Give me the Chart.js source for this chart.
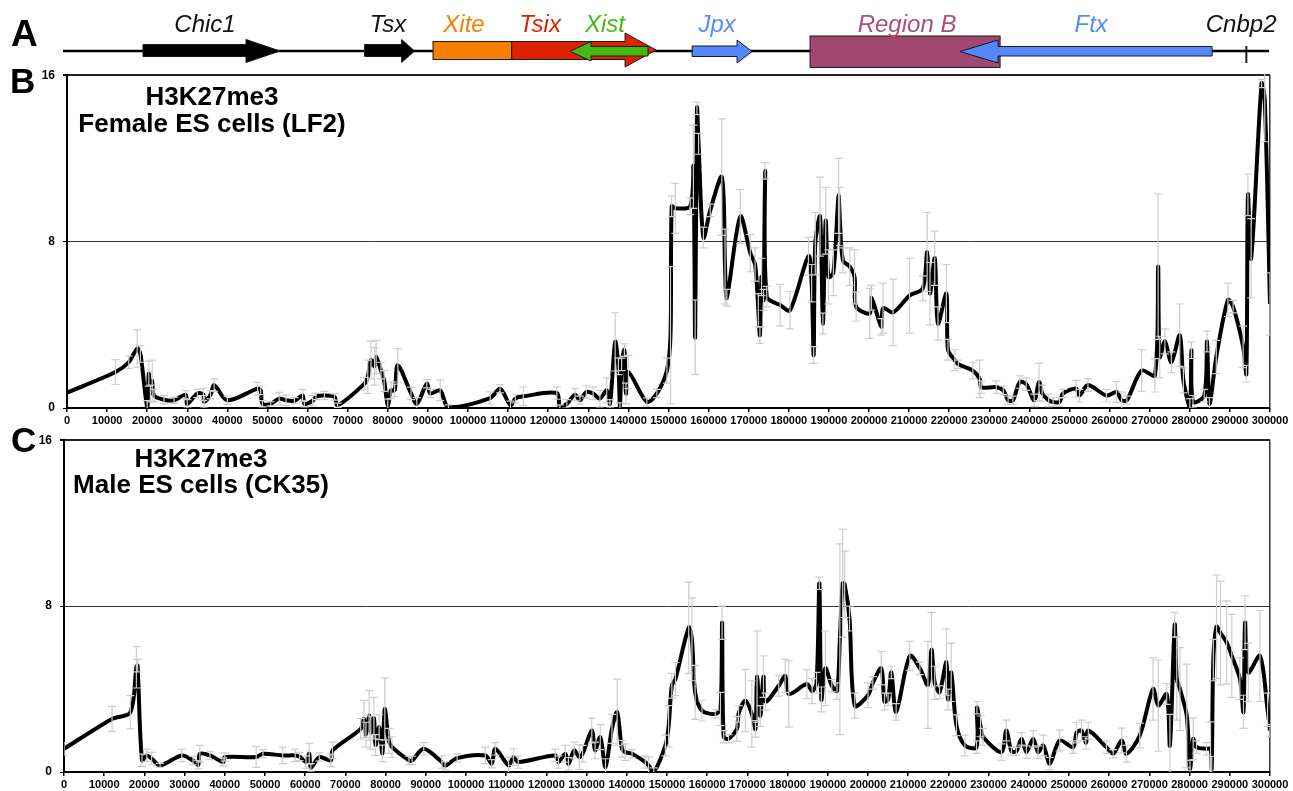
<!DOCTYPE html>
<html>
<head>
<meta charset="utf-8">
<title>H3K27me3 across the X-inactivation centre</title>
<script src="https://cdn.jsdelivr.net/npm/chart.js@4.4.1/dist/chart.umd.min.js"></script>
<style>
  body { margin: 0; background: #fff; }
  #wrap { position: relative; width: 1293px; height: 791px; }
  canvas { position: absolute; left: 0; }
</style>
</head>
<body>
<div id="wrap">
  <canvas id="map" width="1293" height="74" style="top:0"></canvas>
  <canvas id="female" width="1293" height="365" style="top:60px"></canvas>
  <canvas id="male" width="1293" height="366" style="top:425px"></canvas>
</div>
<script>
'use strict';

var FONT = '"Liberation Sans", Arial, Helvetica, sans-serif';

// gene map (bp)
var geneNames = ['Chic1', 'Tsx', 'Xite', 'Tsix', 'Xist', 'Jpx', 'Region B', 'Ftx', 'Cnbp2'];
var geneKind = ['+', '+', 'box', '+', '-', '+', 'box', '-', 'tick'];
var geneStart = [18950, 74220, 91280, 110900, 125450, 155880, 185300, 222710, 294100];
var geneEnd = [53120, 86690, 110900, 146900, 144900, 170840, 232690, 285560, 294100];
var geneLabelPos = [34420, 80060, 99010, 117960, 134170, 162110, 209490, 255400, 292800];
var mapSpan = [-1000, 299780];

// axis ticks
var xTickValues = [0, 10000, 20000, 30000, 40000, 50000, 60000, 70000, 80000, 90000,
  100000, 110000, 120000, 130000, 140000, 150000, 160000, 170000, 180000, 190000,
  200000, 210000, 220000, 230000, 240000, 250000, 260000, 270000, 280000, 290000, 300000];
var yTickValues = [0, 8, 16];

// female ES cells (LF2)
var femalePos = [
  0, 12083, 15400, 17500, 18300, 20000, 20400, 20800, 21250, 21700,
  24200, 26700, 29600, 30000, 32500, 34000, 34200, 35800, 36700, 40000,
  47500, 48300, 48750, 50800, 52900, 54600, 56700, 58750, 59200, 61250,
  62100, 64200, 66700, 67500, 74200, 75000, 75800, 76700, 77100, 78300,
  79100, 80000, 80800, 81700, 82500, 85800, 87240, 89740, 90600, 93060,
  95140, 105530, 108000, 110600, 111800, 113800, 122150, 122900, 124650, 126700,
  127900, 129500, 131200, 132900, 134600, 135400, 136700, 137500, 137900, 138300,
  139000, 139400, 140000, 144600, 147100, 149600, 150500, 150800, 151700, 155400,
  156200, 156650, 157100, 157500, 158700, 160400, 163300, 164100, 164550, 167900,
  170400, 171600, 172400, 172800, 173200, 173700, 174100, 174500, 177850, 180300,
  184900, 185700, 186200, 186600, 187800, 188500, 189200, 189900, 191100, 192400,
  192700, 193500, 195200, 196400, 196800, 200200, 200600, 203100, 203500, 206000,
  210100, 213400, 214500, 215200, 216400, 217200, 219300, 219700, 221400, 222300,
  225900, 227600, 228000, 231750, 233500, 234700, 235900, 237600, 239200, 241200,
  242400, 243200, 244800, 245900, 247500, 248400, 251700, 252500, 254600, 259200,
  261700, 263000, 264300, 268000, 271300, 272100, 272500, 273800, 275400, 277500,
  278400, 280000, 280400, 280800, 283600, 284300, 284900, 286600, 289500, 290800,
  293300, 294100, 294500, 295300, 297900, 298700, 300000];
var femaleVal = [
  0.74, 1.73, 2.2, 2.86, 2.6, 0.05, 1.65, 0.7, 1.3, 0.6,
  0.4, 0.37, 0.64, 0.2, 0.7, 0.65, 0.3, 0.64, 1.1, 0.37,
  0.93, 0.85, 0.2, 0.2, 0.45, 0.37, 0.35, 0.6, 0.2, 0.35,
  0.55, 0.6, 0.53, 0.13, 1.17, 1.5, 2.3, 2.0, 2.45, 1.8,
  1.3, 0.13, 0.85, 0.85, 2.05, 0.7, 0.2, 1.17, 0.7, 0.85,
  0.05, 0.48, 0.93, 0.13, 0.45, 0.56, 0.72, 0.05, 0.2, 0.64,
  0.37, 0.77, 0.7, 0.45, 0.85, 0.2, 3.18, 2.0, 0.05, 2.1,
  2.78, 0.7, 1.73, 0.29, 0.7, 1.8, 3.5, 9.7, 9.6, 9.7,
  11.6, 3.4, 14.4, 12.7, 8.2, 9.5, 11.1, 6.8, 5.3, 9.2,
  7.45, 6.9, 4.7, 3.5, 6.3, 5.2, 11.4, 5.35, 4.95, 4.7,
  7.3, 6.0, 2.55, 7.9, 9.2, 4.06, 9.0, 6.3, 6.5, 10.2,
  9.2, 7.1, 6.8, 6.3, 4.87, 4.55, 5.3, 3.9, 4.8, 4.6,
  5.4, 5.75, 7.5, 5.5, 7.2, 4.06, 5.5, 2.8, 2.3, 2.1,
  1.8, 1.4, 1.0, 1.0, 0.85, 0.37, 0.37, 1.25, 1.15, 0.37,
  1.25, 0.7, 0.37, 0.29, 0.29, 0.7, 0.93, 0.6, 1.1, 0.6,
  0.77, 0.37, 0.37, 1.8, 1.57, 6.8, 2.45, 3.2, 2.2, 3.5,
  1.33, 0.05, 2.78, 0.3, 0.6, 3.2, 0.2, 2.45, 5.2, 4.87,
  2.94, 1.65, 10.25, 7.2, 15.6, 14.8, 5.0];
var femaleErr = [
  0, 0.6, 0.3, 0.9, 0.4, 0.3, 0.6, 0.4, 1.0, 0.3,
  0.2, 0.15, 0.2, 0.2, 0.2, 0.3, 0.3, 0.2, 0.3, 0.2,
  0.3, 0.2, 0.15, 0.1, 0.3, 0.25, 0.15, 0.3, 0.15, 0.25,
  0.15, 0.2, 0.15, 0.1, 0.3, 0.8, 0.9, 0.9, 0.8, 0.4,
  0.5, 0.3, 0.4, 0.3, 0.8, 0.3, 0.3, 0.2, 0.2, 0.5,
  0.1, 0.3, 0.2, 0.2, 0.2, 0.45, 0.3, 0.1, 0.2, 0.3,
  0.2, 0.3, 0.3, 0.4, 0.6, 0.2, 1.4, 0.4, 0.2, 0.3,
  0.3, 0.5, 0.8, 0.2, 0.2, 0.6, 3.3, 0.5, 1.2, 0.4,
  2.0, 1.8, 0.3, 0.5, 0.5, 0.3, 2.8, 1.8, 0.4, 1.3,
  0.9, 0.8, 0.8, 0.4, 0.9, 0.5, 0.4, 0.5, 1.0, 0.9,
  0.9, 0.9, 0.4, 1.5, 1.9, 0.5, 1.6, 1.3, 1.1, 1.8,
  1.4, 0.6, 0.9, 1.3, 0.7, 1.2, 0.6, 0.4, 1.2, 1.6,
  1.8, 0.6, 1.9, 1.5, 1.3, 0.8, 1.4, 0.5, 0.5, 0.2,
  0.4, 0.9, 0.3, 0.3, 0.2, 0.2, 0.2, 0.3, 0.3, 0.3,
  0.9, 0.4, 0.3, 0.2, 0.2, 0.2, 0.4, 0.3, 0.3, 0.3,
  0.5, 0.4, 0.2, 1.0, 0.8, 3.5, 1.0, 0.6, 0.5, 1.5,
  0.6, 0.4, 0.4, 0.3, 0.3, 0.5, 0.3, 0.8, 0.8, 0.3,
  1.0, 0.4, 1.0, 1.9, 0.2, 2.0, 1.5];

// male ES cells (CK35)
var malePos = [
  0, 11960, 16500, 18000, 18300, 19400, 20600, 21800, 23900, 29300,
  32100, 33400, 33800, 36300, 39600, 40000, 47800, 49500, 54400, 57500,
  58600, 60200, 61000, 61400, 63500, 66400, 66800, 73800, 74600, 75100,
  75900, 76300, 77100, 77500, 78400, 79200, 79800, 80800, 81600, 85800,
  86600, 89500, 94000, 94800, 97800, 104800, 106400, 107300, 110600, 111800,
  113000, 122200, 123000, 124700, 125500, 126900, 128200, 129000, 131300, 132100,
  133400, 134700, 136300, 137600, 138800, 139600, 141300, 144600, 145400, 146700,
  149600, 150400, 151200, 152100, 155400, 156200, 157000, 158700, 162000, 163300,
  163700, 164100, 165300, 167400, 167800, 169500, 171100, 172000, 172400, 173200,
  174000, 174500, 177800, 179400, 180300, 184800, 186100, 187200, 187900, 188400,
  189400, 191000, 192300, 193000, 193700, 194200, 195400, 196700, 200000, 201200,
  203300, 204100, 205000, 205800, 207000, 210400, 212900, 214900, 215800, 216600,
  217800, 219500, 219900, 220700, 222000, 224100, 227000, 227100, 228000, 228600,
  233200, 234400, 235700, 236900, 238200, 239400, 241100, 242300, 243600, 245200,
  247700, 251000, 251900, 253100, 254200, 254800, 259300, 261000, 263100, 264300,
  267600, 270900, 272200, 274300, 275100, 276300, 276800, 277600, 279300, 280100,
  280900, 281700, 284200, 285200, 285500, 285900, 286700, 287700, 289200, 290500,
  292500, 293400, 293800, 294600, 297500, 299400, 300000];
var maleVal = [
  1.12, 2.56, 2.88, 5.05, 5.13, 0.56, 0.8, 0.65, 0.32, 0.8,
  0.55, 0.35, 0.88, 0.8, 0.48, 0.72, 0.72, 0.88, 0.8, 0.8,
  0.75, 0.48, 0.88, 0.2, 0.72, 0.56, 1.04, 2.08, 2.56, 1.8,
  2.72, 1.9, 2.6, 1.3, 2.16, 0.9, 3.04, 1.5, 1.2, 0.56,
  0.56, 1.12, 0.48, 0.3, 0.67, 0.8, 0.4, 1.12, 0.32, 0.72,
  0.48, 0.8, 0.48, 0.88, 0.4, 1.04, 0.72, 0.88, 2.0, 1.04,
  1.68, 0.24, 2.08, 2.88, 1.12, 0.96, 0.88, 0.48, 0.32, 0.0,
  1.28, 2.2, 4.16, 4.48, 6.96, 6.4, 3.84, 2.96, 2.8, 3.04,
  7.2, 1.7, 1.6, 2.08, 2.8, 3.45, 2.8, 2.08, 4.6, 2.7,
  4.6, 3.4, 4.16, 4.64, 3.76, 4.24, 3.9, 4.3, 9.1, 3.5,
  5.0, 4.16, 3.9, 6.4, 9.1, 9.05, 7.4, 3.2, 3.7, 4.3,
  5.0, 3.4, 3.5, 4.8, 2.9, 5.6, 5.0, 4.2, 5.9, 4.3,
  3.85, 5.3, 3.5, 4.8, 2.25, 1.28, 1.2, 3.1, 2.2, 1.7,
  0.96, 2.0, 1.0, 1.0, 1.6, 0.96, 1.6, 0.96, 1.28, 0.4,
  1.52, 1.2, 1.9, 2.0, 1.4, 2.0, 1.2, 0.88, 1.52, 0.88,
  1.76, 4.0, 3.2, 3.76, 1.28, 7.1, 4.5, 4.0, 2.7, 0.16,
  1.6, 1.2, 1.12, 1.12, 0.16, 5.4, 7.0, 6.7, 6.25, 5.6,
  4.5, 2.9, 7.2, 4.8, 5.6, 3.0, 2.0];
var maleErr = [
  0.3, 0.6, 0.8, 1.0, 0.3, 0.3, 0.3, 0.3, 0.1, 0.3,
  0.2, 0.2, 0.4, 0.2, 0.2, 0.2, 0.5, 0.2, 0.4, 0.3,
  0.2, 0.3, 0.5, 0.2, 0.2, 0.3, 0.4, 0.5, 0.9, 0.6,
  1.2, 0.8, 1.0, 0.5, 0.6, 0.4, 1.5, 0.6, 0.5, 0.2,
  0.2, 0.3, 0.3, 0.2, 0.2, 0.4, 0.2, 0.3, 0.4, 0.4,
  0.3, 0.3, 0.3, 0.4, 0.3, 0.4, 0.6, 0.4, 0.6, 0.4,
  0.6, 0.4, 0.7, 1.6, 0.4, 0.4, 0.2, 0.3, 0.4, 0.2,
  0.5, 1.0, 0.6, 0.8, 2.2, 2.0, 1.3, 0.5, 0.2, 0.8,
  0.8, 0.3, 0.2, 0.6, 0.4, 1.5, 1.6, 0.4, 2.2, 0.5,
  1.0, 0.4, 0.5, 0.8, 1.6, 0.7, 0.6, 0.5, 0.3, 0.6,
  1.8, 0.3, 0.4, 4.6, 2.6, 1.6, 0.6, 0.6, 0.6, 0.3,
  0.8, 0.4, 0.3, 0.3, 0.4, 0.7, 0.3, 2.1, 1.8, 0.8,
  0.3, 1.6, 0.5, 1.4, 0.5, 0.5, 0.3, 0.3, 0.5, 0.4,
  0.4, 0.5, 0.2, 0.2, 0.3, 0.3, 0.4, 0.3, 0.5, 0.3,
  0.5, 0.3, 0.5, 0.5, 0.3, 0.4, 0.3, 0.2, 0.6, 0.4,
  0.6, 1.5, 2.2, 0.5, 1.5, 0.6, 2.0, 2.0, 2.5, 0.4,
  1.0, 0.3, 0.3, 1.3, 0.6, 1.0, 2.5, 2.5, 2.0, 2.0,
  1.0, 0.8, 1.3, 1.4, 2.2, 0.8, 0.3];

// drawing styles for the gene map, one per gene
var geneStyle = [
  {fill: '#000', text: '#111', bt: 44.5, bb: 56.5, ht: 39.5, hb: 62.5, head: 34},
  {fill: '#000', text: '#111', bt: 44.5, bb: 56.5, ht: 39.5, hb: 62.5, head: 13},
  {fill: '#F77F00', text: '#F77F00', bt: 41.5, bb: 59.5},
  {fill: '#DD2200', text: '#DD2200', bt: 41.5, bb: 59.5, ht: 33, hb: 67, head: 31},
  {fill: '#44BB11', text: '#44BB11', bt: 46.5, bb: 56, ht: 41.5, hb: 61, head: 21},
  {fill: '#5588FF', text: '#5A8CF5', bt: 46, bb: 56.5, ht: 40, hb: 63, head: 15},
  {fill: '#A24672', text: '#A8507C', bt: 36, bb: 67.5},
  {fill: '#5588FF', text: '#5A8CF5', bt: 46.5, bb: 56, ht: 40, hb: 63, head: 38},
  {fill: '#000', text: '#111', bt: 46, bb: 63}
];

function arrowPath(ctx, a, b, dir, s) {
  var mid = (s.ht + s.hb) / 2;
  var tail = dir === '+' ? a : b;
  var tip = dir === '+' ? b : a;
  var base = dir === '+' ? b - s.head : a + s.head;
  ctx.beginPath();
  ctx.moveTo(tail, s.bt);
  ctx.lineTo(base, s.bt);
  ctx.lineTo(base, s.ht);
  ctx.lineTo(tip, mid);
  ctx.lineTo(base, s.hb);
  ctx.lineTo(base, s.bb);
  ctx.lineTo(tail, s.bb);
  ctx.closePath();
}

var geneMap = {
  id: 'geneMap',
  afterDraw: function(chart) {
    var ctx = chart.ctx, xs = chart.scales.x;
    var px = function(v) { return xs.getPixelForValue(v); };
    ctx.save();
    ctx.fillStyle = '#000';
    ctx.font = 'bold 37px ' + FONT;
    ctx.textAlign = 'left';
    ctx.fillText('A', 11, 46);

    ctx.strokeStyle = '#000';
    ctx.lineWidth = 2.5;
    ctx.beginPath();
    ctx.moveTo(px(mapSpan[0]), 51);
    ctx.lineTo(px(mapSpan[1]), 51);
    ctx.stroke();

    geneNames.forEach(function(name, i) {
      var s = geneStyle[i], a = px(geneStart[i]), b = px(geneEnd[i]);
      ctx.fillStyle = s.fill;
      ctx.strokeStyle = '#1a1a1a';
      ctx.lineWidth = 1;
      if (geneKind[i] === 'box') {
        ctx.fillRect(a, s.bt, b - a, s.bb - s.bt);
        ctx.strokeRect(a, s.bt, b - a, s.bb - s.bt);
      } else if (geneKind[i] === 'tick') {
        ctx.lineWidth = 2;
        ctx.beginPath();
        ctx.moveTo(a, s.bt);
        ctx.lineTo(a, s.bb);
        ctx.stroke();
      } else {
        arrowPath(ctx, a, b, geneKind[i], s);
        ctx.fill();
        ctx.stroke();
      }
    });

    ctx.font = 'italic 24px ' + FONT;
    ctx.textAlign = 'center';
    geneNames.forEach(function(name, i) {
      ctx.fillStyle = geneStyle[i].text;
      ctx.fillText(name, px(geneLabelPos[i]), 32);
    });
    ctx.restore();
  }
};

// grey error bars, drawn over the curve like in the original
var errorBars = {
  id: 'errorBars',
  afterDatasetsDraw: function(chart) {
    var ctx = chart.ctx, xs = chart.scales.x, ys = chart.scales.y, area = chart.chartArea;
    chart.data.datasets.forEach(function(ds) {
      if (!ds.errors) return;
      ctx.save();
      ctx.beginPath();
      ctx.rect(area.left, area.top - 2, area.right - area.left, area.bottom - area.top + 2);
      ctx.clip();
      ctx.strokeStyle = '#cdcdcd';
      ctx.lineWidth = 1.2;
      ds.data.forEach(function(p, i) {
        var e = ds.errors[i];
        if (!e) return;
        var x = xs.getPixelForValue(p.x);
        var lo = ys.getPixelForValue(p.y - e), hi = ys.getPixelForValue(p.y + e);
        ctx.beginPath();
        ctx.moveTo(x, lo); ctx.lineTo(x, hi);
        ctx.moveTo(x - 4, lo); ctx.lineTo(x + 4, lo);
        ctx.moveTo(x - 4, hi); ctx.lineTo(x + 4, hi);
        ctx.stroke();
      });
      ctx.restore();
    });
  }
};

var panelText = {
  id: 'panelText',
  afterDraw: function(chart, args, opts) {
    var ctx = chart.ctx;
    ctx.save();
    ctx.fillStyle = '#000';
    ctx.font = 'bold 35px ' + FONT;
    ctx.textAlign = 'left';
    ctx.fillText(opts.letter, opts.letterX, opts.letterY);
    ctx.font = 'bold 26px ' + FONT;
    ctx.textAlign = 'center';
    opts.title.forEach(function(line, i) {
      ctx.fillText(line, opts.titleX, opts.titleY + i * opts.lineGap);
    });
    ctx.restore();
  }
};

function tickList(values) {
  return function(scale) {
    scale.ticks = values.map(function(v) { return {value: v}; });
  };
}

function makeProfile(id, pos, val, err, frame, text) {
  var points = pos.map(function(x, i) { return {x: x, y: val[i]}; });
  return new Chart(document.getElementById(id), {
    type: 'line',
    data: {
      datasets: [{
        data: points,
        errors: err,
        borderColor: '#000',
        borderWidth: 4,
        pointRadius: 0,
        tension: 0.3,
        fill: false
      }]
    },
    options: {
      responsive: false,
      animation: false,
      events: [],
      layout: {padding: {left: 0, right: frame.right, top: frame.top, bottom: 0}},
      plugins: {legend: {display: false}, tooltip: {enabled: false}, panelText: text},
      scales: {
        x: {
          type: 'linear', min: 0, max: 300000,
          afterBuildTicks: tickList(xTickValues),
          afterFit: function(s) { s.height = frame.xAxis; },
          ticks: {
            autoSkip: false, maxRotation: 0, padding: 2, color: '#000',
            font: {family: FONT, size: 11, weight: 'bold'},
            callback: function(v) { return String(v); }
          },
          grid: {
            color: function(c) { return c.tick && c.tick.value === 300000 ? '#333' : 'rgba(0,0,0,0)'; },
            lineWidth: 1.5, tickColor: '#000', tickLength: 4
          },
          border: {display: true, color: '#000', width: 2}
        },
        y: {
          min: 0, max: 16,
          afterBuildTicks: tickList(yTickValues),
          afterFit: function(s) { s.width = frame.left; },
          ticks: {padding: 8, color: '#000', font: {family: FONT, size: 12, weight: 'bold'}},
          grid: {
            color: function(c) {
              if (!c.tick) return 'rgba(0,0,0,0)';
              if (c.tick.value === 8) return '#333';
              if (c.tick.value === 16) return '#222';
              return 'rgba(0,0,0,0)';
            },
            lineWidth: function(c) { return c.tick && c.tick.value === 16 ? 2 : 1; },
            tickColor: '#000', tickLength: 4
          },
          border: {display: true, color: '#000', width: 2}
        }
      }
    },
    plugins: [errorBars, panelText]
  });
}

new Chart(document.getElementById('map'), {
  type: 'scatter',
  data: {datasets: []},
  options: {
    responsive: false,
    animation: false,
    events: [],
    layout: {padding: {left: 67, right: 23, top: 0, bottom: 0}},
    plugins: {legend: {display: false}, tooltip: {enabled: false}},
    scales: {
      x: {type: 'linear', display: false, min: 0, max: 300000},
      y: {display: false, min: 0, max: 1}
    }
  },
  plugins: [geneMap]
});

makeProfile('female', femalePos, femaleVal, femaleErr,
  {left: 67, right: 23, top: 15, xAxis: 17},
  {letter: 'B', letterX: 10, letterY: 33, title: ['H3K27me3', 'Female ES cells (LF2)'],
   titleX: 212, titleY: 45, lineGap: 27});

makeProfile('male', malePos, maleVal, maleErr,
  {left: 64, right: 23, top: 13, xAxis: 19},
  {letter: 'C', letterX: 11, letterY: 27, title: ['H3K27me3', 'Male ES cells (CK35)'],
   titleX: 201, titleY: 42, lineGap: 26});
</script>
</body>
</html>
